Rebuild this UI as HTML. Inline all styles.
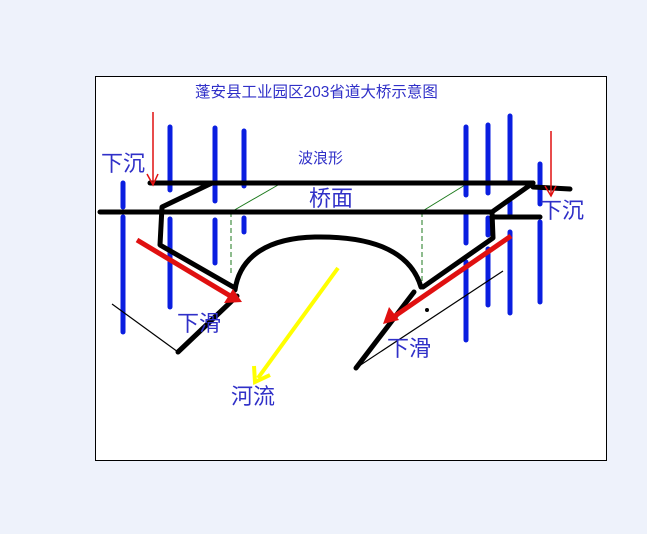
<!DOCTYPE html>
<html><head><meta charset="utf-8"><style>
html,body{margin:0;padding:0;background:#eef2fb;}
svg{display:block}
text{font-family:"Liberation Sans","Noto Sans CJK SC",sans-serif;fill:#3030c8}
</style></head><body>
<svg width="647" height="534" viewBox="0 0 647 534" xmlns="http://www.w3.org/2000/svg">
<rect x="95.5" y="76.5" width="511" height="384" fill="#fff" stroke="#000" stroke-width="1"/>
<text x="195" y="97" font-size="15.5" fill="#1a1aa0">蓬安县工业园区203省道大桥示意图</text>
<text x="298" y="163" font-size="15">波浪形</text>
<g stroke="#1c7a1c" stroke-width="1" fill="none">
<line x1="231" y1="212" x2="278" y2="185"/>
<line x1="421" y1="212" x2="465" y2="185"/>
<line x1="231" y1="212" x2="231" y2="275" stroke-dasharray="5,3"/>
<line x1="422" y1="212" x2="422" y2="283" stroke-dasharray="5,3"/>
</g>
<g stroke="#0a1ee0" stroke-width="5" stroke-linecap="round">
<line x1="123" y1="183" x2="123" y2="207"/><line x1="123" y1="217" x2="123" y2="332"/>
<line x1="170" y1="127" x2="170" y2="190"/><line x1="170" y1="219" x2="170" y2="307"/>
<line x1="215" y1="128" x2="215" y2="201"/><line x1="215" y1="220" x2="215" y2="263"/>
<line x1="244" y1="131" x2="244" y2="186"/><line x1="244" y1="218" x2="244" y2="232"/>
<line x1="466" y1="127" x2="466" y2="195"/><line x1="466" y1="213" x2="466" y2="243"/><line x1="466" y1="262" x2="466" y2="340"/>
<line x1="488" y1="125" x2="488" y2="193"/><line x1="488" y1="218" x2="488" y2="235"/><line x1="488" y1="249" x2="488" y2="305"/>
<line x1="510" y1="116" x2="510" y2="181"/><line x1="510" y1="202" x2="510" y2="217"/><line x1="510" y1="232" x2="510" y2="313"/>
<line x1="540" y1="164" x2="540" y2="204"/><line x1="540" y1="222" x2="540" y2="302"/>
</g>
<g stroke="#000" stroke-width="5" fill="none" stroke-linejoin="round" stroke-linecap="round">
<line x1="150" y1="183" x2="533" y2="183"/>
<line x1="533" y1="187" x2="570" y2="189"/>
<line x1="100" y1="212" x2="492" y2="212"/>
<line x1="492" y1="217" x2="540" y2="217"/>
<polyline points="212,183 162,207 160,245 235,288"/>
<polyline points="533,183 492,212 493,238 423,287"/>
<path d="M235,290 C240,255 270,238 315,237 C370,236 410,250 421,287"/>
<polyline points="178,352 237,296"/>
<polyline points="356,368 414,292"/>
</g>
<g stroke="#000" stroke-width="1.2">
<line x1="112" y1="304" x2="178" y2="352"/>
<line x1="356" y1="368" x2="503" y2="271"/>
</g>
<circle cx="427" cy="310" r="2" fill="#000"/>
<g stroke="#e01010" fill="none">
<line x1="153" y1="112" x2="153" y2="185" stroke-width="1.5"/>
<polyline points="147,174 153,185 158,174" stroke-width="1.5"/>
<line x1="551" y1="131" x2="551" y2="196" stroke-width="1.5"/>
<polyline points="545,186 551,196 556,186" stroke-width="1.5"/>
<line x1="137" y1="240" x2="232" y2="297" stroke-width="5"/>
<line x1="511" y1="236" x2="392" y2="318" stroke-width="5"/>
</g>
<polygon points="242,302 224,303 233,289" fill="#e01010"/>
<polygon points="383,324 389,307 399,320" fill="#e01010"/>
<line x1="338" y1="268" x2="258" y2="378" stroke="#ffff00" stroke-width="4"/>
<polyline points="254,366 255,382 270,375" stroke="#ffff00" stroke-width="4" fill="none"/>
<text x="309" y="206" font-size="22">桥面</text>
<text x="101" y="171" font-size="22">下沉</text>
<text x="540" y="218" font-size="22">下沉</text>
<text x="177" y="331" font-size="22">下滑</text>
<text x="387" y="356" font-size="22">下滑</text>
<text x="231" y="404" font-size="22">河流</text>
</svg>
</body></html>
